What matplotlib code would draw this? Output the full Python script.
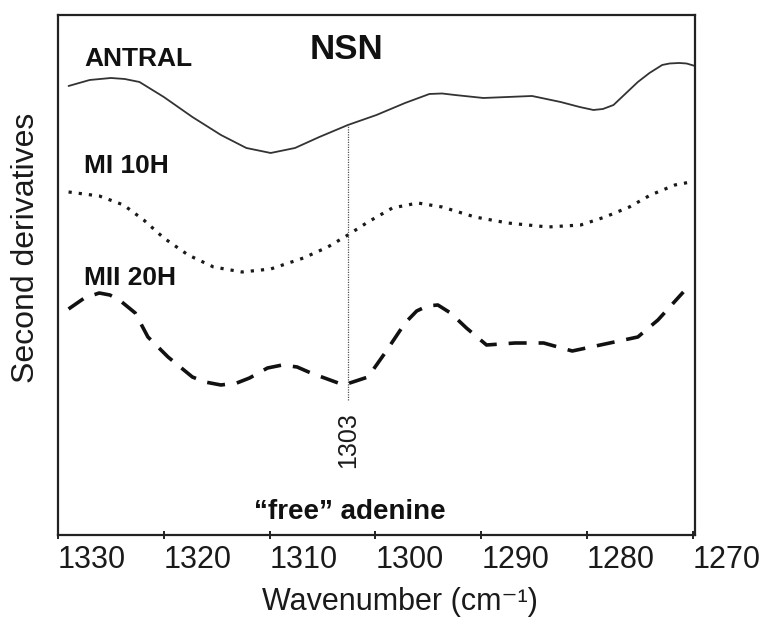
import matplotlib
matplotlib.use("Agg")
import matplotlib.pyplot as plt

plt.rcParams['font.family'] = ['Liberation Sans', 'DejaVu Sans']

# wavenumbers (cm-1) and second-derivative values (arbitrary offsets)
antral_x = [1329.0, 1327.0, 1325.0, 1323.7, 1322.3, 1320.0, 1317.3, 1314.6, 1312.2, 1309.9,
            1307.6, 1305.3, 1302.6, 1299.9, 1297.2, 1294.9, 1293.7, 1292.5, 1289.8, 1287.5,
            1285.2, 1282.5, 1280.7, 1279.4, 1278.5, 1277.5, 1276.4, 1275.2, 1274.1, 1272.9,
            1272.2, 1271.3, 1270.6, 1269.8]
antral_y = [4.49, 4.55, 4.57, 4.56, 4.53, 4.38, 4.18, 4.00, 3.87, 3.82,
            3.87, 3.98, 4.10, 4.20, 4.32, 4.41, 4.415, 4.40, 4.37, 4.38,
            4.39, 4.33, 4.28, 4.25, 4.26, 4.30, 4.41, 4.53, 4.62, 4.70,
            4.715, 4.72, 4.715, 4.69]

mi10_x = [1329.0, 1326.1, 1323.8, 1321.9, 1320.0, 1317.7, 1315.3, 1312.6, 1309.9, 1306.8,
          1304.5, 1302.6, 1300.7, 1298.4, 1296.0, 1293.7, 1290.6, 1287.5, 1283.7, 1280.6,
          1278.3, 1276.0, 1274.0, 1271.7, 1270.2]
mi10_y = [3.43, 3.39, 3.30, 3.15, 2.97, 2.80, 2.68, 2.63, 2.66, 2.77,
          2.88, 3.00, 3.13, 3.27, 3.32, 3.28, 3.18, 3.12, 3.08, 3.10,
          3.18, 3.28, 3.40, 3.50, 3.53]

mii20_x = [1329.0, 1327.5, 1326.1, 1325.1, 1324.2, 1322.7, 1321.5, 1319.6, 1317.3, 1316.1,
           1314.6, 1313.1, 1311.9, 1310.2, 1308.8, 1307.4, 1306.1, 1303.0, 1300.7, 1299.1,
           1297.2, 1296.1, 1295.1, 1294.1, 1292.9, 1291.4, 1289.5, 1286.8, 1284.1, 1281.4,
           1278.3, 1275.2, 1273.3, 1270.9]
mii20_y = [2.26, 2.37, 2.42, 2.40, 2.35, 2.22, 1.98, 1.78, 1.58, 1.53,
           1.50, 1.52, 1.57, 1.67, 1.70, 1.68, 1.62, 1.50, 1.58, 1.82,
           2.12, 2.24, 2.29, 2.30, 2.22, 2.07, 1.90, 1.92, 1.92, 1.84,
           1.91, 1.98, 2.15, 2.43]

peak_x = 1302.6
peak_label = "1303"
xticks = [1330, 1320, 1310, 1300, 1290, 1280, 1270]

fig = plt.figure(figsize=(7.66, 6.19), dpi=100)
ax = fig.add_axes([0.0757, 0.1357, 0.8316, 0.8401])

ax.plot(antral_x, antral_y, color='#333333', lw=1.3, solid_capstyle='round',
        solid_joinstyle='round')
ax.plot(mi10_x, mi10_y, color='#1a1a1a', lw=2.3, linestyle=(0, (1.0, 2.2)))
ax.plot(mii20_x, mii20_y, color='#111111', lw=2.6, linestyle=(0, (5.0, 3.3)))

# marker line at the free adenine band
ax.plot([peak_x, peak_x], [1.35, 4.10], color='#555555', lw=0.9, linestyle=(0, (1, 1)))

ax.set_xlim(1330, 1269.8)
ax.set_ylim(0, 5.2)
ax.set_yticks([])
ax.set_xticks(xticks)
ax.set_xticklabels([str(t) for t in xticks])
for lab in ax.get_xticklabels():
    lab.set_horizontalalignment('left')
    lab.set_color('#1a1a1a')
ax.tick_params(axis='x', direction='inout', length=6, width=1.4, labelsize=22,
               pad=4, color='#222222')
for sp in ax.spines.values():
    sp.set_linewidth(1.6)
    sp.set_color('#222222')

ax.set_xlabel('Wavenumber (cm⁻¹)', fontsize=22, color='#1a1a1a')
ax.xaxis.set_label_coords(0.537, -0.100)
ax.set_ylabel('Second derivatives', fontsize=23, color='#1a1a1a')
ax.yaxis.set_label_coords(-0.026, 0.552)

ax.text(1327.5, 4.76, 'ANTRAL', fontsize=19, fontweight='bold', ha='left', va='center', color='#111111')
ax.text(1302.7, 4.85, 'NSN', fontsize=25, fontweight='bold', ha='center', va='center', color='#111111')
ax.text(1327.5, 3.69, 'MI 10H', fontsize=19, fontweight='bold', ha='left', va='center', color='#111111')
ax.text(1327.5, 2.57, 'MII 20H', fontsize=19, fontweight='bold', ha='left', va='center', color='#111111')
ax.text(1302.4, 0.23, '“free” adenine', fontsize=20, fontweight='bold', ha='center', va='center', color='#111111')
ax.text(peak_x, 0.95, peak_label, fontsize=18, rotation=90, ha='center', va='center', color='#1a1a1a')

fig.savefig('out.png', dpi=100)
